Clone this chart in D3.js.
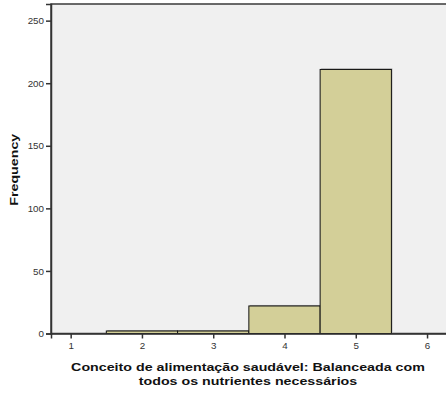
<!DOCTYPE html>
<html>
<head>
<meta charset="utf-8">
<script src="https://cdn.jsdelivr.net/npm/d3@7"></script>
<style>
  html, body { margin: 0; padding: 0; background: #ffffff; }
  svg { display: block; font-family: "Liberation Sans", Arial, sans-serif; }
</style>
</head>
<body>
<svg id="chart" width="446" height="394"></svg>
<script>
// Histogram bins: lower edge, upper edge, frequency
const binStarts = [1.5, 2.5, 3.5, 4.5];
const binEnds = [2.5, 3.5, 4.5, 5.5];
const frequencies = [2, 2, 22, 211];
const xTickValues = [1, 2, 3, 4, 5, 6];
const yTickValues = [0, 50, 100, 150, 200, 250];
const xTitleLines = ["Conceito de alimentação saudável: Balanceada com", "todos os nutrientes necessários"];
const yTitle = "Frequency";

const svg = d3.select("#chart");
const plot = { left: 51, top: 4, right: 447, bottom: 333.5 };
const titleStretch = 1.24; // wide bold title face

const x = d3.scaleLinear().domain([0.724, 6.28]).range([plot.left, plot.right]);
const y = d3.scaleLinear().domain([0, 263.3]).range([plot.bottom, plot.top]);

// Plot background and frame
svg.append("rect")
  .attr("x", plot.left).attr("y", plot.top)
  .attr("width", plot.right - plot.left).attr("height", plot.bottom - plot.top)
  .attr("fill", "#f0f0f0")
  .attr("stroke", "#3a3a3a").attr("stroke-width", 1.5);

const bins = binStarts.map((s, i) => ({ x0: s, x1: binEnds[i], n: frequencies[i] }));

// Soft shadow behind bars
svg.append("g").selectAll("rect").data(bins).join("rect")
  .attr("x", d => x(d.x0) + 1)
  .attr("y", d => y(d.n) - 1)
  .attr("width", d => x(d.x1) - x(d.x0))
  .attr("height", d => y(0) - y(d.n))
  .attr("fill", "#a8a8a8");

svg.append("g").selectAll("rect").data(bins).join("rect")
  .attr("x", d => x(d.x0))
  .attr("y", d => y(d.n))
  .attr("width", d => x(d.x1) - x(d.x0))
  .attr("height", d => y(0) - y(d.n))
  .attr("fill", "#d3cf98")
  .attr("stroke", "#111").attr("stroke-width", 1);

// Axes
const yAxis = svg.append("g")
  .attr("transform", `translate(${plot.left},0)`)
  .call(d3.axisLeft(y).tickValues(yTickValues).tickSize(5).tickPadding(2).tickFormat(d3.format("d")));
yAxis.select(".domain").attr("stroke", "#333").attr("stroke-width", 1.5);

const xAxis = svg.append("g")
  .attr("transform", `translate(0,${plot.bottom})`)
  .call(d3.axisBottom(x).tickValues(xTickValues).tickSize(5).tickPadding(4).tickFormat(d3.format("d")));
xAxis.select(".domain").attr("stroke", "#333").attr("stroke-width", 1.5);

svg.selectAll(".tick line").attr("stroke", "#333").attr("stroke-width", 1.5);
svg.selectAll(".tick text").attr("font-size", 9.8).attr("fill", "#333")
  .attr("font-family", "'Liberation Sans', Arial, sans-serif");

// Axis titles
svg.append("text")
  .attr("transform", `translate(18,${(plot.top + plot.bottom) / 2 + 1}) rotate(-90) scale(${titleStretch},1)`)
  .attr("text-anchor", "middle")
  .attr("font-size", 11.5).attr("font-weight", "bold").attr("fill", "#111")
  .text(yTitle);

svg.append("g").selectAll("text").data(xTitleLines).join("text")
  .attr("transform", (d, i) => `translate(248,${370.5 + i * 14.5}) scale(${titleStretch},1)`)
  .attr("text-anchor", "middle")
  .attr("font-size", 11.5).attr("font-weight", "bold").attr("fill", "#111")
  .text(d => d);
</script>
</body>
</html>
